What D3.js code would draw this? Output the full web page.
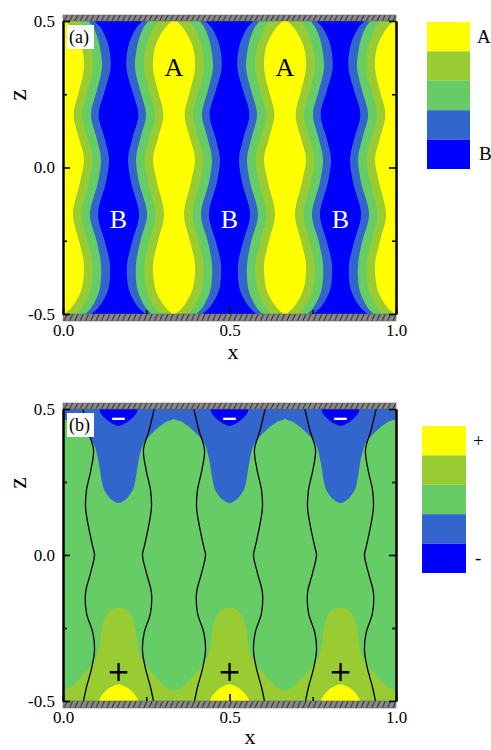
<!DOCTYPE html>
<html>
<head>
<meta charset="utf-8">
<script src="https://cdn.jsdelivr.net/npm/d3@7"></script>
<style>
  body { margin: 0; background: #fff; }
  svg { display: block; }
  text { font-family: "Liberation Serif", "Times New Roman", Times, serif; }
</style>
</head>
<body>
<svg id="chart" width="491" height="750"></svg>
<script>
// contour level colours, from A (+) down to B (-)
const levelColors = ["#ffff00", "#99cc33", "#66cc66", "#3366cc", "#0000ff"];

// ---- panel (a): stripes of A around these x positions
const stripeCenters = [0, 1 / 3, 2 / 3, 1];
const labelAx = [1 / 3, 2 / 3];
const labelBx = [1 / 6, 1 / 2, 5 / 6];

// z levels where the stripe edges were read
const stripeZ = [0.52, 0.5, 0.48, 0.45, 0.41, 0.34, 0.26, 0.18, 0.10, 0.03, -0.05, -0.16, -0.25, -0.33, -0.41, -0.45, -0.48, -0.5, -0.52];
// half widths (in x) of each level edge around a stripe centre
const edgeYellow = [0.006, 0.009, 0.024, 0.042, 0.057, 0.063, 0.048, 0.032, 0.048, 0.063, 0.051, 0.030, 0.048, 0.063, 0.057, 0.042, 0.024, 0.006, 0.003];
const edgeOlive  = [0.048, 0.048, 0.060, 0.072, 0.084, 0.090, 0.074, 0.057, 0.074, 0.089, 0.078, 0.056, 0.074, 0.089, 0.084, 0.072, 0.057, 0.042, 0.042];
const edgeGreen  = [0.078, 0.078, 0.090, 0.102, 0.111, 0.117, 0.101, 0.084, 0.101, 0.114, 0.105, 0.081, 0.101, 0.114, 0.111, 0.099, 0.084, 0.069, 0.069];
const edgeSky    = [0.096, 0.096, 0.111, 0.126, 0.138, 0.143, 0.125, 0.107, 0.125, 0.138, 0.129, 0.105, 0.125, 0.141, 0.137, 0.123, 0.105, 0.087, 0.087];

// ---- panel (b): blobs centred at these x positions
const blobCenters = [1 / 6, 1 / 2, 5 / 6];

// sky blue tongue hanging from the top wall (open end first, tip last)
const tongueZ  = [0.53, 0.5, 0.468, 0.455, 0.44, 0.428, 0.40, 0.371, 0.315, 0.257, 0.225, 0.205, 0.19, 0.178];
const tongueHW = [0.172, 0.172, 0.168, 0.141, 0.123, 0.111, 0.087, 0.071, 0.059, 0.051, 0.044, 0.033, 0.021, 0];
// deep blue cap at the top wall
const capTopZ  = [0.53, 0.5, 0.486, 0.47, 0.455, 0.446, 0.442];
const capTopHW = [0.057, 0.057, 0.054, 0.042, 0.026, 0.011, 0];
// olive tongue rising from the bottom wall
const riseZ  = [-0.53, -0.5, -0.468, -0.451, -0.417, -0.383, -0.348, -0.291, -0.234, -0.194, -0.180];
const riseHW = [0.172, 0.172, 0.168, 0.141, 0.111, 0.084, 0.065, 0.055, 0.047, 0.030, 0];
// yellow cap at the bottom wall
const capBotZ  = [-0.53, -0.5, -0.486, -0.469, -0.455, -0.446, -0.443];
const capBotHW = [0.059, 0.059, 0.054, 0.042, 0.027, 0.011, 0];
// black contour lines: offset from each blob centre
const lineZ   = [0.5, 0.428, 0.36, 0.291, 0.223, 0.164, 0.096, 0.027, 0.0, -0.062, -0.13, -0.199, -0.267, -0.325, -0.384, -0.452, -0.5];
const lineOff = [0.107, 0.092, 0.075, 0.083, 0.096, 0.099, 0.090, 0.077, 0.072, 0.084, 0.099, 0.096, 0.077, 0.072, 0.080, 0.096, 0.105];

const majorTicks = [-0.5, 0, 0.5];
const minorTicks = [-0.25, 0.25];
const xMajor = [0, 0.5, 1];
const xMinor = [0.25, 0.75];

const svg = d3.select("#chart");
const defs = svg.append("defs");

const x = d3.scaleLinear().domain([0, 1]).range([63, 396]);

const drawPanel = (p) => {
  const y = d3.scaleLinear().domain([-0.5, 0.5]).range([p.bottom, p.top]);
  const g = svg.append("g");

  defs.append("clipPath").attr("id", "clip-" + p.id)
    .append("rect")
      .attr("x", x(0)).attr("y", p.top)
      .attr("width", x(1) - x(0)).attr("height", p.bottom - p.top);

  const plot = g.append("g").attr("clip-path", `url(#clip-${p.id})`);
  p.fill(plot, y);

  // hatched walls
  [[p.top - 6, 6], [p.bottom, 7]].forEach(([wy, wh], i) => {
    const pid = `hatch-${p.id}-${i}`;
    const pat = defs.append("pattern").attr("id", pid)
      .attr("patternUnits", "userSpaceOnUse")
      .attr("x", 0).attr("y", wy).attr("width", 5.3).attr("height", wh);
    pat.append("rect").attr("width", 5.3).attr("height", wh).attr("fill", "#8a8a8a");
    pat.append("path").attr("d", `M0.6,${wh} L3.8,0`).attr("stroke", "#2a2a2a").attr("stroke-width", 1);
    g.append("rect")
      .attr("x", x(0)).attr("y", wy)
      .attr("width", x(1) - x(0)).attr("height", wh)
      .attr("fill", `url(#${pid})`)
      .attr("stroke", "#666").attr("stroke-width", 0.6);
  });

  // axes
  const fmt = d => d.toFixed(1);
  const axisStyle = a => a.call(s => s.selectAll(".domain").attr("stroke-width", 2))
    .call(s => s.selectAll(".tick line").attr("stroke-width", 1.6))
    .call(s => s.selectAll("text").attr("font-size", 17).attr("fill", "#000"));

  g.append("g").attr("transform", `translate(${x(0)},0)`)
    .call(d3.axisLeft(y).tickValues(majorTicks).tickFormat(fmt).tickSizeInner(-7).tickSizeOuter(0).tickPadding(8))
    .call(axisStyle);
  g.append("g").attr("transform", `translate(${x(0)},0)`)
    .call(d3.axisLeft(y).tickValues(minorTicks).tickFormat("").tickSizeInner(-4).tickSizeOuter(0))
    .call(axisStyle);
  g.append("g").attr("transform", `translate(${x(1)},0)`)
    .call(d3.axisLeft(y).tickValues(majorTicks).tickFormat("").tickSizeInner(7).tickSizeOuter(0))
    .call(axisStyle);
  g.append("g").attr("transform", `translate(${x(1)},0)`)
    .call(d3.axisLeft(y).tickValues(minorTicks).tickFormat("").tickSizeInner(4).tickSizeOuter(0))
    .call(axisStyle);
  g.append("g").attr("transform", `translate(0,${p.bottom})`)
    .call(d3.axisBottom(x).tickValues(xMajor).tickFormat(fmt).tickSizeInner(-7).tickSizeOuter(0).tickPadding(10))
    .call(axisStyle)
    .call(s => s.select(".domain").remove());
  g.append("g").attr("transform", `translate(0,${p.bottom})`)
    .call(d3.axisBottom(x).tickValues(xMinor).tickFormat("").tickSizeInner(-4).tickSizeOuter(0))
    .call(axisStyle)
    .call(s => s.select(".domain").remove());

  // axis titles
  g.append("text")
    .attr("transform", `translate(26,${p.top + 74}) rotate(-90)`)
    .attr("text-anchor", "middle")
    .attr("font-size", 26)
    .text("z");
  g.append("text")
    .attr("x", p.xLabelX).attr("y", p.xLabelY)
    .attr("text-anchor", "middle")
    .attr("font-size", 22)
    .text("x");

  // panel tag
  g.append("rect")
    .attr("x", x(0) + 4).attr("y", p.top + 4)
    .attr("width", 27).attr("height", 24)
    .attr("fill", "#fff");
  g.append("text")
    .attr("x", x(0) + 6).attr("y", p.top + 22)
    .attr("font-size", 18)
    .text(p.tag);

  // legend
  const ly = d3.scaleBand().domain(d3.range(levelColors.length)).range([p.legend.top, p.legend.top + 147]);
  g.append("g").selectAll()
    .data(levelColors)
    .join("rect")
      .attr("x", p.legend.left).attr("y", (d, i) => ly(i))
      .attr("width", p.legend.width).attr("height", ly.bandwidth())
      .attr("fill", d => d);
  g.append("text")
    .attr("x", p.legend.left + p.legend.width + 7).attr("y", ly(0) + ly.bandwidth() / 2 + 6)
    .attr("font-size", p.legend.size).text(p.legend.hi);
  g.append("text")
    .attr("x", p.legend.left + p.legend.width + 9).attr("y", ly(4) + ly.bandwidth() / 2 + 6)
    .attr("font-size", p.legend.size).text(p.legend.lo);
};

// panel (a): blue background, then nested stripes
const fillA = (plot, y) => {
  plot.append("rect")
    .attr("x", x(0)).attr("y", y(0.5))
    .attr("width", x(1) - x(0)).attr("height", y(-0.5) - y(0.5))
    .attr("fill", levelColors[4]);

  const edges = [edgeSky, edgeGreen, edgeOlive, edgeYellow];
  edges.forEach((hw, k) => {
    const area = d3.area()
      .curve(d3.curveCatmullRom)
      .y((d, i) => y(stripeZ[i]));
    stripeCenters.forEach(c => {
      plot.append("path")
        .attr("d", area.x0((d, i) => x(c - hw[i])).x1((d, i) => x(c + hw[i]))(stripeZ))
        .attr("fill", levelColors[3 - k]);
    });
  });

  plot.append("g").selectAll()
    .data(labelAx)
    .join("text")
      .attr("x", d => x(d)).attr("y", y(0.344) + 9)
      .attr("text-anchor", "middle").attr("font-size", 26)
      .text("A");
  plot.append("g").selectAll()
    .data(labelBx)
    .join("text")
      .attr("x", d => x(d)).attr("y", y(-0.176) + 9)
      .attr("text-anchor", "middle").attr("font-size", 26).attr("fill", "#fff")
      .text("B");
};

// closed outline from an open end down to a tip and back up
const blob = (cx, zs, hws, y) => {
  const left = zs.map((z, i) => [x(cx - hws[i]), y(z)]);
  const right = zs.map((z, i) => [x(cx + hws[i]), y(z)]).reverse().slice(1);
  return d3.line().curve(d3.curveCatmullRom)(left.concat(right));
};

// panel (b): green background, blobs on the walls, contour lines
const fillB = (plot, y) => {
  plot.append("rect")
    .attr("x", x(0)).attr("y", y(0.5))
    .attr("width", x(1) - x(0)).attr("height", y(-0.5) - y(0.5))
    .attr("fill", levelColors[2]);

  const layers = [
    [tongueZ, tongueHW, levelColors[3]],
    [capTopZ, capTopHW, levelColors[4]],
    [riseZ, riseHW, levelColors[1]],
    [capBotZ, capBotHW, levelColors[0]]
  ];
  layers.forEach(([zs, hws, col]) => {
    plot.append("g").selectAll()
      .data(blobCenters)
      .join("path")
        .attr("d", c => blob(c, zs, hws, y))
        .attr("fill", col);
  });

  const line = d3.line().curve(d3.curveCatmullRom);
  blobCenters.forEach(c => {
    [-1, 1].forEach(s => {
      plot.append("path")
        .attr("d", line(lineZ.map((z, i) => [x(c + s * lineOff[i]), y(z)])))
        .attr("fill", "none")
        .attr("stroke", "#000")
        .attr("stroke-width", 1.3);
    });
  });

  plot.append("g").selectAll()
    .data(blobCenters)
    .join("text")
      .attr("x", d => x(d)).attr("y", y(0.469) + 7)
      .attr("text-anchor", "middle")
      .style("font-family", "DejaVu Sans").attr("font-weight", "bold").attr("font-size", 20)
      .attr("fill", "#fff")
      .text("\u2212");
  plot.append("g").selectAll()
    .data(blobCenters)
    .join("text")
      .attr("x", d => x(d)).attr("y", y(-0.397) + 10)
      .attr("text-anchor", "middle")
      .style("font-family", "DejaVu Sans").attr("font-size", 28)
      .text("+");
};

drawPanel({ id: "a", top: 21, bottom: 314, tag: "(a)", xLabelX: 233, xLabelY: 359, fill: fillA,
  legend: { left: 427, top: 22, width: 43, hi: "A", lo: "B", size: 19 } });
drawPanel({ id: "b", top: 409, bottom: 701, tag: "(b)", xLabelX: 250, xLabelY: 744, fill: fillB,
  legend: { left: 422, top: 426, width: 44, hi: "+", lo: "-", size: 19 } });
</script>
</body>
</html>
